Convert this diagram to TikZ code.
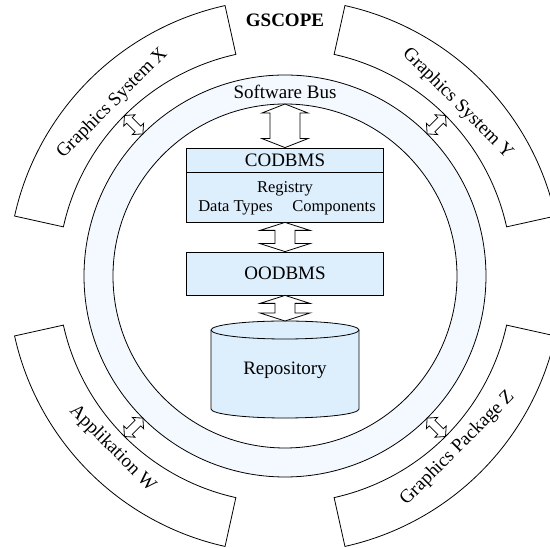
\documentclass[tikz,border=0pt]{standalone}
\usepackage{fontspec}
\setmainfont{Liberation Serif}
\usetikzlibrary{calc}
\definecolor{boxfill}{RGB}{221,238,253}
\definecolor{ringfill}{RGB}{244,249,255}

% Double-headed block arrow from #2 to #3.
% #1 style, #4 head length, #5 half head width, #6 half shaft width
\newcommand{\dblarrow}[6]{%
  \draw[#1] (#2)
    -- ($(#2)!#4!(#3)!#5!90:(#3)$)
    -- ($(#2)!#4!(#3)!#6!90:(#3)$)
    -- ($(#3)!#4!(#2)!#6!-90:(#2)$)
    -- ($(#3)!#4!(#2)!#5!-90:(#2)$)
    -- (#3)
    -- ($(#3)!#4!(#2)!#5!90:(#2)$)
    -- ($(#3)!#4!(#2)!#6!90:(#2)$)
    -- ($(#2)!#4!(#3)!#6!-90:(#3)$)
    -- ($(#2)!#4!(#3)!#5!-90:(#3)$)
    -- cycle;}

\begin{document}
\begin{tikzpicture}[x=1pt,y=1pt,line width=0.8pt,
  every node/.style={inner sep=0pt,font=\fontsize{19}{22}\selectfont},
  small/.style={font=\fontsize{16.5}{19}\selectfont},
  sector/.style={draw,fill=white},
  dbox/.style={draw,fill=boxfill,minimum width=197pt},
  blk/.style={draw,fill=white,line join=miter}]
\useasboundingbox (-285,-272) rectangle (265,276);

% software bus ring
\path[fill=ringfill,even odd rule] (0,0) circle (201) (0,0) circle (172);
\draw (0,0) circle (201) (0,0) circle (172);

% outer annular sectors and their radial links to the bus
\foreach \a in {45,135,225,315}{
  \draw[sector] (\a-32.5:227) arc (\a-32.5:\a+32.5:227)
    -- (\a+32.5:277) arc (\a+32.5:\a-32.5:277) -- cycle;
  \begin{scope}[rotate=\a]
    \coordinate (r\a) at (201,0);
    \coordinate (s\a) at (227,0);
    \draw[blk] (r\a) -- (208,8) -- (208,4) -- (220,4) -- (220,8) -- (s\a)
      -- (220,-8) -- (220,-4) -- (208,-4) -- (208,-8) -- cycle;
  \end{scope}
}

\node[rotate=45]  (gx) at (135:244) {Graphics System X};
\node[rotate=-45] (gy) at (45:244)  {Graphics System Y};
\node[rotate=-45] (aw) at (225:244) {Applikation W};
\node[rotate=45]  (gz) at (315:244) {Graphics Package Z};

\node[anchor=base,font=\fontsize{19}{22}\selectfont\bfseries] (title) at (0,249) {GSCOPE};
\node[anchor=base] (bus) at (0,177) {Software Bus};
\coordinate (busin) at (0,172);

% CODBMS
\node[dbox,minimum height=74pt] (cod) at (0,91) {};
\draw (cod.west |- 0,104) -- (cod.east |- 0,104);
\node[anchor=base] (codt) at (0,109) {CODBMS};
\node[anchor=base,small] (reg) at (0,83) {Registry};
\node[anchor=base,small] (dt) at (-49.5,64) {Data Types};
\node[anchor=base,small] (comp) at (49,64) {Components};

% OODBMS
\node[dbox,minimum height=43pt] (ood) at (0,2.5) {OODBMS};

% repository cylinder
\draw[fill=boxfill] (-74,-54) -- (-74,-133)
  arc[start angle=180,end angle=360,x radius=74,y radius=9]
  -- (74,-54) arc[start angle=0,end angle=180,x radius=74,y radius=9] -- cycle;
\draw (-74,-54) arc[start angle=180,end angle=360,x radius=74,y radius=9];
\coordinate (repotop) at (0,-45);
\node[anchor=base] (repo) at (0,-99) {Repository};

% block arrows between the layers
\dblarrow{blk}{busin}{cod.north}{9pt}{23pt}{15pt}
\dblarrow{blk}{cod.south}{ood.north}{8pt}{25pt}{10pt}
\dblarrow{blk}{ood.south}{repotop}{8pt}{25pt}{10pt}
\end{tikzpicture}
\end{document}
